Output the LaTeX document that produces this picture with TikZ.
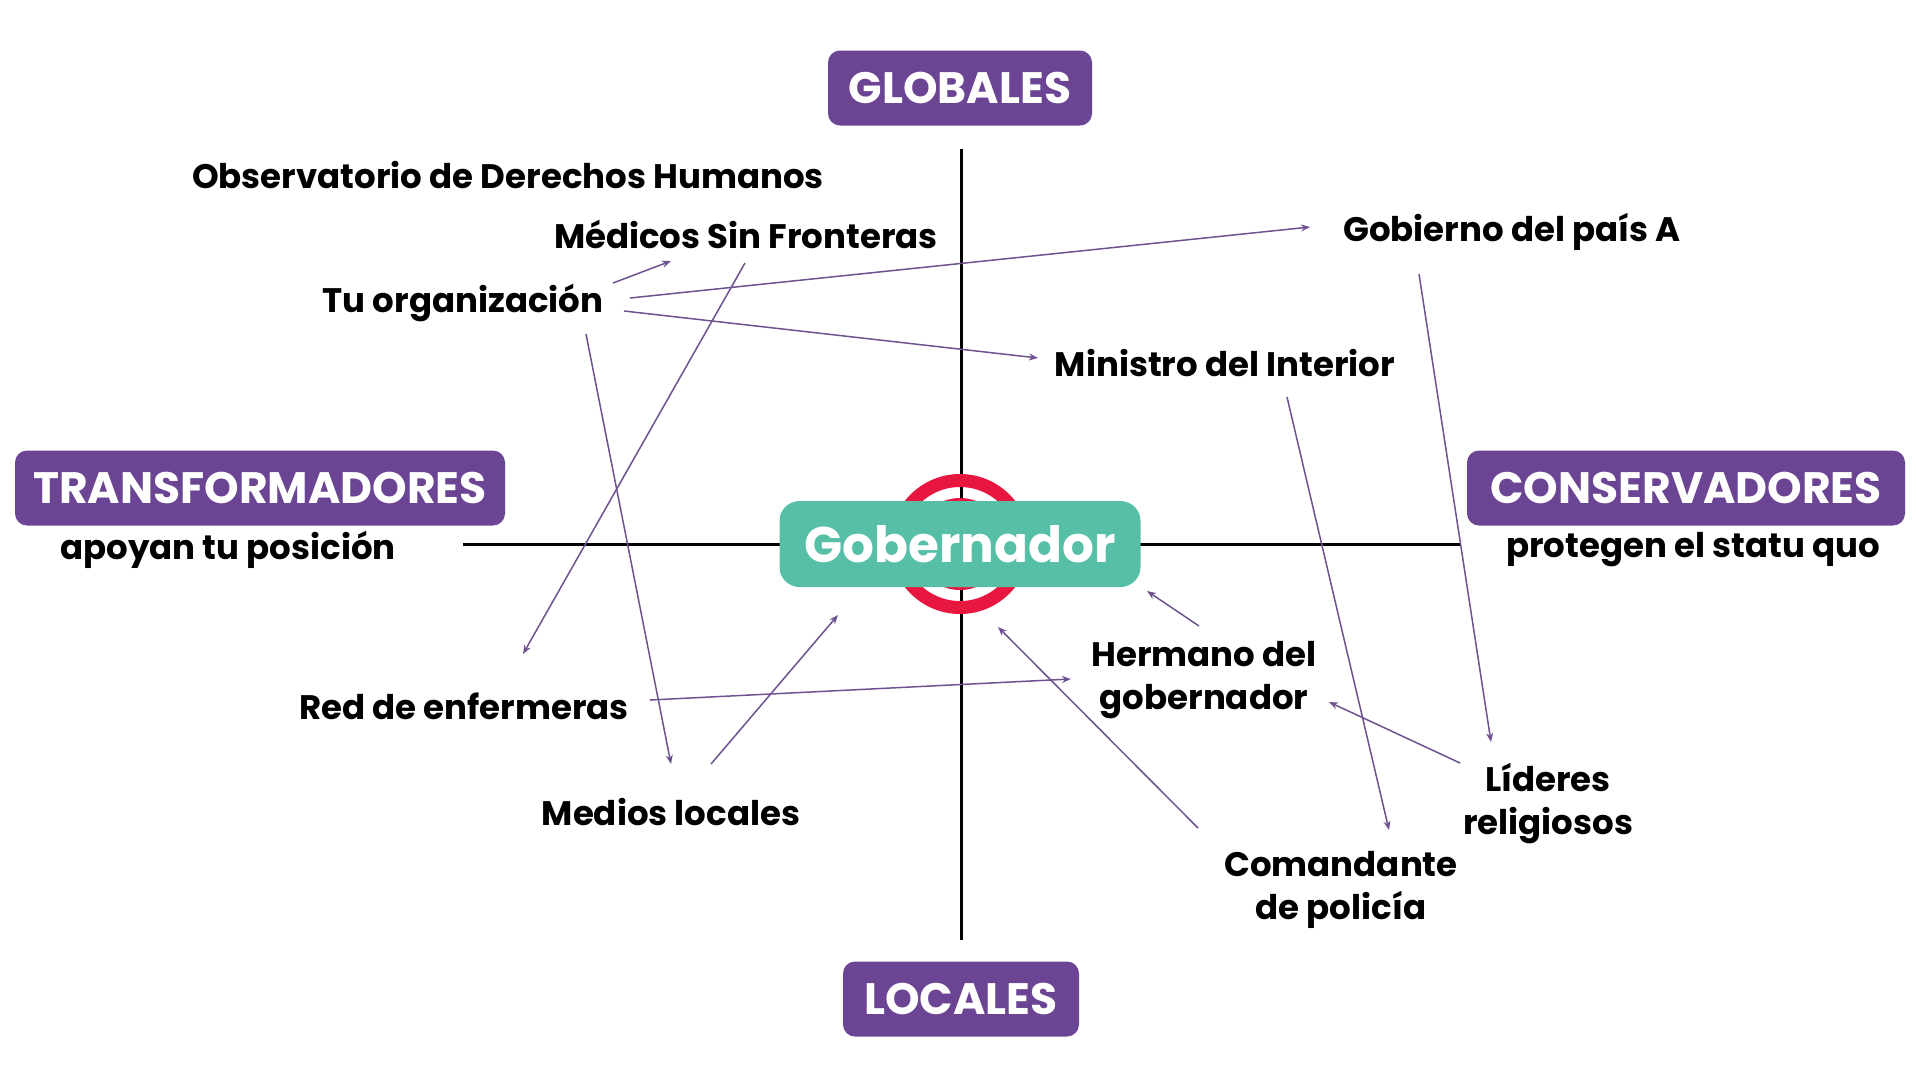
\documentclass[tikz,border=0pt]{standalone}
\usepackage{fontspec}
\setmainfont{Poppins}
\usetikzlibrary{arrows.meta}
\definecolor{boxpurple}{HTML}{6B4593}
\definecolor{govteal}{HTML}{57BFA6}
\definecolor{ringred}{HTML}{E8173F}
\definecolor{linkpurple}{HTML}{6E5290}

\begin{document}
\begin{tikzpicture}[x=1pt,y=-1pt,
	axis/.style={line width=3pt},
	tag/.style={fill=boxpurple, text=white, rounded corners=12pt, minimum height=75pt, inner sep=0pt, font=\fontsize{44}{44}\selectfont\bfseries},
	actor/.style={inner sep=0pt, align=center, yshift=-4pt, font=\fontsize{34}{43}\selectfont\bfseries},
	link/.style={draw=linkpurple, line width=1.5pt, -{Stealth[length=9pt,width=7pt]}}]
	\useasboundingbox (0,0) rectangle (1920,1080);
	% axes
	\draw[axis] (961,149) -- (961,940);
	\draw[axis] (463,544) -- (1460,544);
	% target behind the governor
	\fill[ringred] (960,544) circle (46);
	\draw[ringred, line width=13pt] (960,544) circle (63.5);
	\node[fill=govteal, text=white, rounded corners=20pt, minimum width=361pt, minimum height=86pt, inner sep=0pt, font=\fontsize{50}{50}\selectfont\bfseries] (gov) at (960,544) {Gobernador};
	% quadrant tags
	\node[tag, minimum width=264pt] (glob) at (960,88) {GLOBALES};
	\node[tag, minimum width=236pt] (loc) at (961,999) {LOCALES};
	\node[tag, minimum width=490pt] (trans) at (260,488) {TRANSFORMADORES};
	\node[tag, minimum width=438pt] (cons) at (1686,488) {CONSERVADORES};
	\node[actor] (transsub) at (228,546) {apoyan tu posición};
	\node[actor] (conssub) at (1693,546) {protegen el statu quo};
	% actors
	\node[actor] (obs) at (508,171) {Observatorio de Derechos Humanos};
	\node[actor] (msf) at (746,230) {Médicos Sin Fronteras};
	\node[actor] (tu) at (463,299) {Tu organización};
	\node[actor] (gob) at (1512,228) {Gobierno del país A};
	\node[actor] (min) at (1225,359) {Ministro del Interior};
	\node[actor] (her) at (1204,676) {Hermano del\\gobernador};
	\node[actor] (red) at (464,702) {Red de enfermeras};
	\node[actor] (med) at (671,808) {Medios locales};
	\node[actor] (lid) at (1548,800) {Líderes\\religiosos};
	\node[actor] (com) at (1341,886) {Comandante\\de policía};
	% links
	\draw[link] ([shift={(150,-20)}]tu.center) -- ([shift={(-75,27)}]msf.center);
	\draw[link] ([shift={(167,-5)}]tu.center) -- ([shift={(-202,-5)}]gob.center);
	\draw[link] ([shift={(161,8)}]tu.center) -- ([shift={(-187,-5)}]min.center);
	\draw[link] ([shift={(-1,29)}]msf.center) -- ([shift={(59,-52)}]red.center);
	\draw[link] ([shift={(123,31)}]tu.center) -- ([shift={(0,-48)}]med.center);
	\draw[link] ([shift={(40,-48)}]med.center) -- ([shift={(-122,71)}]gov.center);
	\draw[link] ([shift={(186,-6)}]red.center) -- ([shift={(-133,-1)}]her.center);
	\draw[link] ([shift={(-5,-54)}]her.center) -- ([shift={(187,47)}]gov.center);
	\draw[link] ([shift={(-143,-62)}]com.center) -- ([shift={(38,83)}]gov.center);
	\draw[link] ([shift={(62,34)}]min.center) -- ([shift={(48,-60)}]com.center);
	\draw[link] ([shift={(-93,42)}]gob.center) -- ([shift={(-57,-62)}]lid.center);
	\draw[link] ([shift={(-88,-41)}]lid.center) -- ([shift={(125,22)}]her.center);
\end{tikzpicture}
\end{document}
